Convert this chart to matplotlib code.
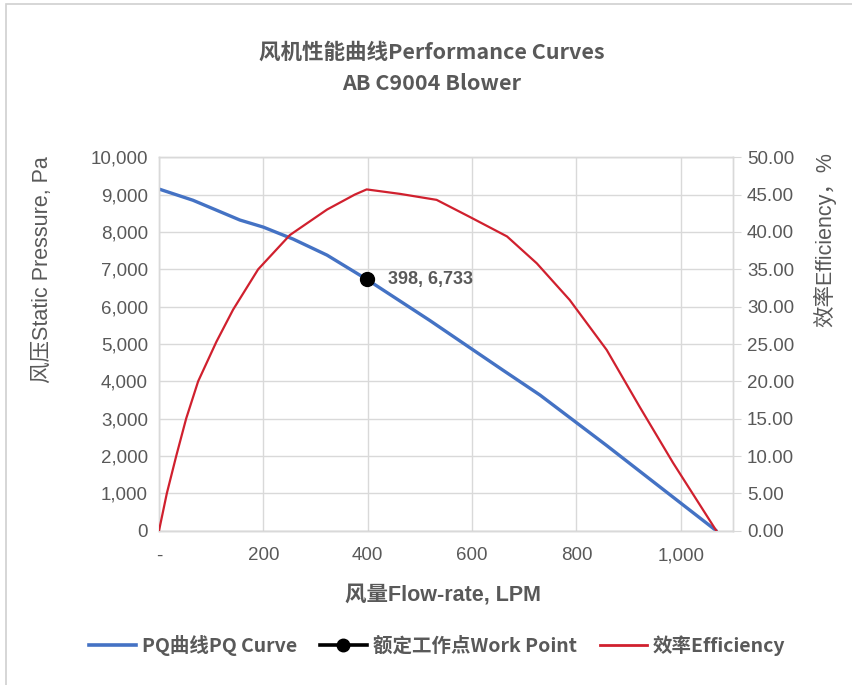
import matplotlib
matplotlib.use("Agg")
import matplotlib.pyplot as plt
from matplotlib.ticker import FuncFormatter, MultipleLocator
from matplotlib.lines import Line2D
from matplotlib.patches import Rectangle

plt.rcParams['font.family'] = ['Liberation Sans', 'Noto Sans CJK SC', 'DejaVu Sans']

# ---- data ----
pq_flow = [0, 65, 155, 200, 257, 322, 398, 519, 600, 659, 730, 858, 985, 1068]
pq_pressure = [9150, 8850, 8320, 8130, 7810, 7380, 6733, 5630, 4860, 4300, 3634, 2280, 900, 0]

eff_flow = [0, 15, 33, 52, 75, 110, 142, 190, 251, 322, 375, 398, 462, 532, 596,
            667, 724, 787, 858, 921, 985, 1068]
eff_values = [0, 5, 10, 15, 20, 25.3, 29.6, 35, 39.6, 43.0, 45, 45.7, 45.1, 44.3, 42.0,
              39.4, 35.8, 30.9, 24.2, 16.6, 9.1, 0]

work_flow = [398]
work_pressure = [6733]

title_lines = ["风机性能曲线Performance Curves", "AB C9004 Blower"]
x_label = "风量Flow-rate, LPM"
y_label = "风压Static Pressure, Pa"
y2_label = "效率Efficiency，%"
legend_labels = ["PQ曲线PQ Curve", "额定工作点Work Point", "效率Efficiency"]
x_ticks = [0, 200, 400, 600, 800, 1000]

TXT = '#595959'
GRID = '#D9D9D9'
BLUE = '#4472C4'
RED = '#D0202E'

fig = plt.figure(figsize=(8.52, 6.85), dpi=100)
fig.patch.set_facecolor('white')
fig.patches.append(Rectangle((6/852, -0.1), 1.2, (1 - 4/685) + 0.1,
                             transform=fig.transFigure, fill=False,
                             edgecolor='#D0D0D0', linewidth=1.2))

ax = fig.add_axes([159/852, 1 - 530.7/685, (733 - 159)/852, (530.7 - 157.3)/685])
ax2 = ax.twinx()

ax.plot(pq_flow, pq_pressure, color=BLUE, linewidth=2.4, solid_capstyle='round',
        solid_joinstyle='round', zorder=3)
ax2.plot(eff_flow, eff_values, color=RED, linewidth=1.6, solid_joinstyle='round', zorder=3)
ax.plot(work_flow, work_pressure, 'o', color='black', markersize=10, zorder=5)
ax.annotate(f"{work_flow[0]}, {work_pressure[0]:,}", (work_flow[0], work_pressure[0]),
            xytext=(15, 0), textcoords='offset points', va='center', ha='left',
            fontsize=13, fontweight='bold', color=TXT, zorder=6)

ax.set_xlim(0, 1100)
ax.set_ylim(0, 10000)
ax2.set_ylim(0, 50)
ax.set_xticks(x_ticks)
ax.xaxis.set_major_formatter(FuncFormatter(lambda v, p: '-' if v == 0 else f"{int(v):,}"))
ax.yaxis.set_major_locator(MultipleLocator(1000))
ax.yaxis.set_major_formatter(FuncFormatter(lambda v, p: f"{int(v):,}"))
ax2.yaxis.set_major_locator(MultipleLocator(5))
ax2.yaxis.set_major_formatter(FuncFormatter(lambda v, p: f"{v:.2f}"))

ax.grid(True, color=GRID, linewidth=1.0)
ax.set_axisbelow(True)
for a in (ax, ax2):
    for s in a.spines.values():
        s.set_color(GRID)
        s.set_linewidth(1.0)
ax.spines['bottom'].set_color('#BFBFBF')

ax.tick_params(axis='both', length=0, labelsize=13.5, labelcolor=TXT)
ax.tick_params(axis='x', pad=12)
ax.tick_params(axis='y', pad=8)
ax2.tick_params(axis='y', length=6, color=GRID, labelsize=13.5, labelcolor=TXT, pad=4)

ax.set_xlabel(x_label, fontsize=15.5, fontweight='bold', color=TXT)
ax.xaxis.set_label_coords(0.495, -0.145)
ax.set_ylabel(y_label, fontsize=15.5, color=TXT)
ax.yaxis.set_label_coords(-0.185, 0.70)
ax2.set_ylabel(y2_label, fontsize=15.5, color=TXT, rotation=90)
ax2.yaxis.set_label_coords(1.14, 0.78)

fig.text(432/852, 1 - 52/685, title_lines[0], ha='center', va='center', fontsize=15.5,
         color=TXT, family=['Noto Sans CJK SC'], fontweight='bold')
fig.text(432/852, 1 - 83/685, title_lines[1], ha='center', va='center', fontsize=15.5,
         color=TXT, family=['Noto Sans CJK SC'], fontweight='bold')

handles = [Line2D([], [], color=BLUE, linewidth=2.6),
           Line2D([], [], color='black', linewidth=2.6, marker='o', markersize=9),
           Line2D([], [], color=RED, linewidth=2.0)]
fig.legend(handles, legend_labels, loc='center', bbox_to_anchor=(437/852, 1 - 645/685),
           ncol=3, frameon=False, handlelength=2.4, handletextpad=0.3,
           columnspacing=1.2, labelcolor=TXT,
           prop={'family': ['Noto Sans CJK SC'], 'size': 14, 'weight': 'bold'})

fig.savefig('out.png', dpi=100, facecolor='white')
